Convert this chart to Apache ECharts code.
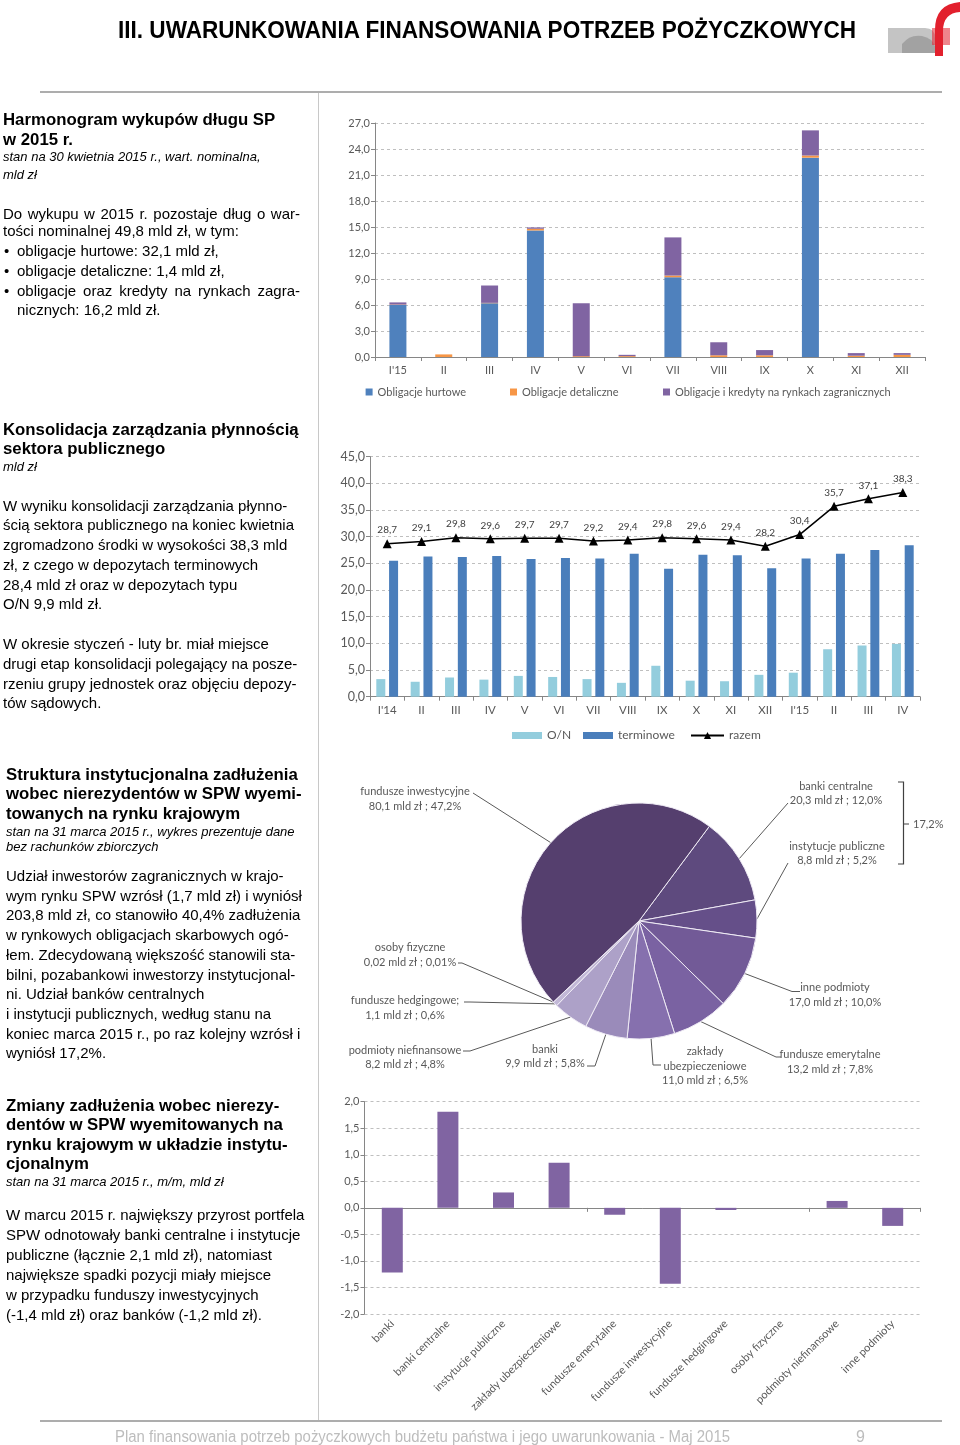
<!DOCTYPE html>
<html><head><meta charset="utf-8">
<script src="https://cdn.jsdelivr.net/npm/echarts@6/dist/echarts.min.js"></script>
<style>
html,body{margin:0;padding:0;background:#fff;}
body{width:960px;height:1445px;position:relative;overflow:hidden;font-family:"Liberation Sans",Arial,sans-serif;color:#000;}
#chart{position:absolute;left:0;top:0;width:960px;height:1445px;}
.t{position:absolute;white-space:nowrap;line-height:20px;height:20px;}
.h{font-weight:bold;font-size:16.8px;}
.s{font-style:italic;font-size:13px;}
.b{font-size:15px;}
.j{text-align:justify;text-align-last:justify;}
.ln{position:absolute;background:#B4B4B4;}
</style></head><body>
<div id="chart"></div>
<div id="page"></div>
<script>
// ---------------- DATA ----------------
const months15 = ["I'15","II","III","IV","V","VI","VII","VIII","IX","X","XI","XII"];
const hurtowe = [6.0,0,6.2,14.6,0,0,9.2,0,0,23.0,0,0];
const detaliczne = [0.05,0.3,0.05,0.2,0.1,0.1,0.2,0.2,0.2,0.25,0.15,0.25];
const zagraniczne = [0.25,0,2.0,0.15,6.1,0.15,4.4,1.5,0.6,2.9,0.3,0.2];

const months = ["I'14","II","III","IV","V","VI","VII","VIII","IX","X","XI","XII","I'15","II","III","IV"];
const onValues = [3.3,2.8,3.6,3.2,3.9,3.7,3.3,2.6,5.8,3.0,2.9,4.1,4.5,8.9,9.6,9.9];
const termValues = [25.5,26.3,26.2,26.4,25.8,26.0,25.9,26.8,24.0,26.6,26.5,24.1,25.9,26.8,27.5,28.4];
const razemValues = [28.7,29.1,29.8,29.6,29.7,29.7,29.2,29.4,29.8,29.6,29.4,28.2,30.4,35.7,37.1,38.3];

const pieNames = ['banki centralne','instytucje publiczne','inne podmioty','fundusze emerytalne','zakłady ubezpieczeniowe','banki','podmioty niefinansowe','fundusze hedgingowe','osoby fizyczne','fundusze inwestycyjne'];
const pieLabelNames = ['banki centralne','instytucje publiczne','inne podmioty','fundusze emerytalne','zakłady\nubezpieczeniowe','banki','podmioty niefinansowe','fundusze hedgingowe;','osoby fizyczne','fundusze inwestycyjne'];
const pieValues = [20.3,8.8,17.0,13.2,11.0,9.9,8.2,1.1,0.02,80.1];
const piePercents = ['12,0%','5,2%','10,0%','7,8%','6,5%','5,8%','4,8%','0,6%','0,01%','47,2%'];
const bracketLabel = '17,2%';

const instCats = ['banki','banki centralne','instytucje publiczne','zakłady ubezpieczeniowe','fundusze emerytalne','fundusze inwestycyjne','fundusze hedgingowe','osoby fizyczne','podmioty niefinansowe','inne podmioty'];
const instChanges = [-1.22,1.81,0.29,0.85,-0.13,-1.43,-0.04,0.0,0.13,-0.34];

// ---------------- STYLES / LAYOUT ----------------
const pieColors = ['#5E4A7E','#654F89','#725A97','#7A62A2','#8670AE','#9A8BBA','#ADA1C8','#C2B8D7','#D4CDE3','#553F6E'];
const pieLabelPos = [
  {x:836,y:793.5,elbow:[788,803],end:[788,803]},
  {x:837,y:853.5,elbow:[788,863],end:[788,863]},
  {x:835,y:995,elbow:[792,991.5],end:[800,991.5]},
  {x:830,y:1062,elbow:[776,1057],end:[781,1057]},
  {x:705,y:1066,elbow:[653,1065],end:[661,1065]},
  {x:545,y:1056.5,elbow:[595,1066],end:[587,1066]},
  {x:405,y:1057.5,elbow:[470,1051],end:[463,1051]},
  {x:405,y:1008,elbow:[470,1002],end:[464,1002]},
  {x:410,y:955,elbow:[462,963],end:[458,963]},
  {x:415,y:799,elbow:[473,793],end:[473,793]}
];

const FONT = 'Lato';
const AX = '#595959';
const AXL = '#868686';
const GRIDC = '#BFBFBF';
function fmt1(v){ return (+v).toFixed(1).replace('.', ','); }
function fmtV(v){ return (v < 0.1 ? v.toFixed(2) : v.toFixed(1)).replace('.', ','); }

const split = {show:true, lineStyle:{type:[3,3], color:GRIDC, width:1}};
function catAxis(grid, data, extra){
  return Object.assign({type:'category', gridIndex:grid, data:data,
    axisLine:{lineStyle:{color:AXL}}, axisTick:{show:true, length:4, lineStyle:{color:AXL}},
    axisLabel:{color:AX, fontSize:11, fontFamily:FONT, margin:8, interval:0}}, extra||{});
}
function valAxis(grid, min, max, interval, fs){
  return {type:'value', gridIndex:grid, min:min, max:max, interval:interval,
    axisLine:{show:true, lineStyle:{color:AXL}}, axisTick:{show:true, length:4, lineStyle:{color:AXL}},
    axisLabel:{formatter:fmt1, color:AX, fontSize:fs, fontFamily:FONT, margin:5},
    splitLine:split};
}
function legend(name, left, top, w, h, fs, icon){
  const l = {data:[name], left:left, top:top, padding:0, itemWidth:w, itemHeight:h, itemGap:0,
    textStyle:{color:AX, fontSize:fs, fontFamily:FONT}};
  if (icon) l.icon = icon;
  return l;
}

const chart = echarts.init(document.getElementById('chart'));
chart.setOption({
  animation:false,
  textStyle:{fontFamily:FONT},
  grid:[
    {left:375, top:123, width:550, height:234},
    {left:370, top:456.7, width:550, height:240},
    {left:364.5, top:1101.7, width:556, height:212.3}
  ],
  legend:[
    legend('Obligacje hurtowe',365.6,386.5,7,7,11,'rect'),
    legend('Obligacje detaliczne',510,386.5,7,7,11,'rect'),
    legend('Obligacje i kredyty na rynkach zagranicznych',663,386.5,7,7,11,'rect'),
    legend('O/N',512,729.5,30,7,12,'rect'),
    legend('terminowe',583,729.5,30,7,12,'rect'),
    legend('razem',690,729.5,33,9,12)
  ],
  xAxis:[
    catAxis(0, months15),
    catAxis(1, months, {axisLabel:{color:AX, fontSize:11.5, fontFamily:FONT, margin:8, interval:0}}),
    catAxis(2, instCats, {axisLine:{show:false, onZero:false}, axisTick:{show:false},
      axisLabel:{rotate:45, color:AX, fontSize:11, fontFamily:FONT, margin:8, interval:0}}),
    catAxis(2, instCats, {position:'top', axisLine:{onZero:true, lineStyle:{color:AXL}},
      axisTick:{show:true, inside:true, length:4, lineStyle:{color:AXL}}, axisLabel:{show:false}})
  ],
  yAxis:[
    valAxis(0, 0, 27, 3, 11),
    valAxis(1, 0, 45, 5, 12.5),
    valAxis(2, -2, 2, 0.5, 11)
  ],
  series:[
    {type:'bar', name:'Obligacje hurtowe', xAxisIndex:0, yAxisIndex:0, stack:'s1', data:hurtowe, barWidth:17, itemStyle:{color:'#4F81BD'}},
    {type:'bar', name:'Obligacje detaliczne', xAxisIndex:0, yAxisIndex:0, stack:'s1', data:detaliczne, barWidth:17, itemStyle:{color:'#F79646'}},
    {type:'bar', name:'Obligacje i kredyty na rynkach zagranicznych', xAxisIndex:0, yAxisIndex:0, stack:'s1', data:zagraniczne, barWidth:17, itemStyle:{color:'#8064A2'}},
    {type:'bar', name:'O/N', xAxisIndex:1, yAxisIndex:1, data:onValues, barWidth:9, barGap:'42%', itemStyle:{color:'#93CDDD'}},
    {type:'bar', name:'terminowe', xAxisIndex:1, yAxisIndex:1, data:termValues, barWidth:9, barGap:'42%', itemStyle:{color:'#4A7EBB'}},
    {type:'line', name:'razem', xAxisIndex:1, yAxisIndex:1, data:razemValues, symbol:'triangle', symbolSize:9,
      lineStyle:{color:'#000', width:1.5}, itemStyle:{color:'#000'},
      label:{show:true, position:'top', distance:4, formatter:p=>fmt1(p.value), fontSize:10, color:'#404040', fontFamily:FONT}},
    {type:'pie', center:[639,921], radius:118, startAngle:53.4, clockwise:true, avoidLabelOverlap:false,
      itemStyle:{borderColor:'#EEEAF4', borderWidth:1},
      data: pieNames.map((n,i)=>({name:n, value:pieValues[i], itemStyle:{color:pieColors[i]}})),
      label:{show:true, position:'outside', fontSize:11, lineHeight:14.5, color:AX, fontFamily:FONT,
        formatter:p=>pieLabelNames[p.dataIndex]+'\n'+fmtV(p.value)+' mld zł ; '+piePercents[p.dataIndex]},
      labelLine:{show:true, length:10, length2:10, lineStyle:{color:'#595959', width:1}},
      labelLayout:function(p){
        const L = pieLabelPos[p.dataIndex];
        const s = p.labelLinePoints && p.labelLinePoints[0];
        const r = {x:L.x, y:L.y, align:'center', verticalAlign:'middle'};
        if (s) r.labelLinePoints = [s, L.elbow, L.end];
        return r;
      }},
    {type:'bar', name:'zmiana', xAxisIndex:2, yAxisIndex:2, data:instChanges, barWidth:21, itemStyle:{color:'#8064A2'}}
  ],
  graphic:[
    {type:'polyline', shape:{points:[[898,782],[903.5,782],[903.5,864],[898,864]]}, style:{stroke:'#404040', lineWidth:1.2, fill:null}},
    {type:'line', shape:{x1:903.5,y1:824,x2:909,y2:824}, style:{stroke:'#404040', lineWidth:1}},
    {type:'text', x:913, y:824, style:{text:bracketLabel, fontSize:11, fontFamily:FONT, fill:AX, verticalAlign:'middle'}}
  ]
});

// ---------------- PAGE TEXT ----------------
const page = document.getElementById('page');
function add(cls, x, y, txt, w){
  const d = document.createElement('div');
  d.className = 't ' + cls;
  d.style.left = x + 'px';
  d.style.top = (y - 10) + 'px';
  if (w) d.style.width = w + 'px';
  d.textContent = txt;
  page.appendChild(d);
  return d;
}
function fitWidth(el, target){
  const w = el.getBoundingClientRect().width;
  if (w > 0) { el.style.transformOrigin = '0 50%'; el.style.transform = 'scaleX(' + (target / w) + ')'; }
}
function line(x,y,w,h,c){ const d=document.createElement('div'); d.className='ln'; d.style.left=x+'px'; d.style.top=y+'px'; d.style.width=w+'px'; d.style.height=h+'px'; if(c) d.style.background=c; page.appendChild(d); }

line(40,91,902,2,'#ADADAD');
line(318,93,1,1327,'#C8C8C8');
line(40,1420,902,2,'#ADADAD');

// header
const hd = document.createElement('div');
hd.style.cssText='position:absolute;white-space:nowrap;left:118px;top:15px;height:30px;line-height:30px;font-family:"Liberation Sans Narrow","Liberation Sans",sans-serif;font-weight:bold;font-size:24px;color:#000;';
hd.textContent='III. UWARUNKOWANIA FINANSOWANIA POTRZEB POŻYCZKOWYCH';
page.appendChild(hd);
fitWidth(hd, 738);

const ft = document.createElement('div');
ft.style.cssText='position:absolute;white-space:nowrap;left:115px;top:1427px;height:20px;line-height:20px;font-family:"Liberation Sans Narrow","Liberation Sans",sans-serif;font-size:16px;color:#BDBDBD;';
ft.textContent='Plan finansowania potrzeb pożyczkowych budżetu państwa i jego uwarunkowania - Maj 2015';
page.appendChild(ft);
fitWidth(ft, 615);
const pn = document.createElement('div');
pn.style.cssText='position:absolute;white-space:nowrap;left:856px;top:1427px;height:20px;line-height:20px;font-family:"Liberation Sans Narrow","Liberation Sans",sans-serif;font-size:16px;color:#BDBDBD;';
pn.textContent='9';
page.appendChild(pn);

// block 1
add('h',3,120,'Harmonogram wykupów długu SP');
add('h',3,140,'w 2015 r.');
add('s',3,157,'stan na 30 kwietnia 2015 r., wart. nominalna,');
add('s',3,175,'mld zł');
add('b j',3,214,'Do wykupu w 2015 r. pozostaje dług o war-',297);
add('b',3,231,'tości nominalnej 49,8 mld zł, w tym:');
add('b',4,251,'•'); add('b',17,251,'obligacje hurtowe: 32,1 mld zł,');
add('b',4,271,'•'); add('b',17,271,'obligacje detaliczne: 1,4 mld zł,');
add('b',4,291,'•'); add('b j',17,291,'obligacje oraz kredyty na rynkach zagra-',283);
add('b',17,310,'nicznych: 16,2 mld zł.');

// block 2
add('h',3,430,'Konsolidacja zarządzania płynnością');
add('h',3,449,'sektora publicznego');
add('s',3,467,'mld zł');
[['W wyniku konsolidacji zarządzania płynno-',506],['ścią sektora publicznego na koniec kwietnia',525],
 ['zgromadzono środki w wysokości 38,3 mld',545],['zł, z czego w depozytach terminowych',565],
 ['28,4 mld zł oraz w depozytach typu',585],['O/N 9,9 mld zł.',604],
 ['W okresie styczeń - luty br. miał miejsce',644],['drugi etap konsolidacji polegający na posze-',664],
 ['rzeniu grupy jednostek oraz objęciu depozy-',684],['tów sądowych.',703]].forEach(a=>add('b',3,a[1],a[0]));

// block 3
add('h',6,775,'Struktura instytucjonalna zadłużenia');
add('h',6,794,'wobec nierezydentów w SPW wyemi-');
add('h',6,814,'towanych na rynku krajowym');
add('s',6,832,'stan na 31 marca 2015 r., wykres prezentuje dane');
add('s',6,847,'bez rachunków zbiorczych');
[['Udział inwestorów zagranicznych w krajo-',876],['wym rynku SPW wzrósł (1,7 mld zł) i wyniósł',896],
 ['203,8 mld zł, co stanowiło 40,4% zadłużenia',915],['w rynkowych obligacjach skarbowych ogó-',935],
 ['łem. Zdecydowaną większość stanowili sta-',955],['bilni, pozabankowi inwestorzy instytucjonal-',975],
 ['ni. Udział banków centralnych',994],['i instytucji publicznych, według stanu na',1014],
 ['koniec marca 2015 r., po raz kolejny wzrósł i',1034],['wyniósł 17,2%.',1053]].forEach(a=>add('b',6,a[1],a[0]));

// block 4
add('h',6,1106,'Zmiany zadłużenia wobec nierezy-');
add('h',6,1125,'dentów w SPW wyemitowanych na');
add('h',6,1145,'rynku krajowym w układzie instytu-');
add('h',6,1164,'cjonalnym');
add('s',6,1182,'stan na 31 marca 2015 r., m/m, mld zł');
[['W marcu 2015 r. największy przyrost portfela',1215],['SPW odnotowały banki centralne i instytucje',1235],
 ['publiczne (łącznie 2,1 mld zł), natomiast',1255],['największe spadki pozycji miały miejsce',1275],
 ['w przypadku funduszy inwestycyjnych',1295],['(-1,4 mld zł) oraz banków (-1,2 mld zł).',1315]].forEach(a=>add('b',6,a[1],a[0]));

// logo
const svgNS='http://www.w3.org/2000/svg';
const logo=document.createElementNS(svgNS,'svg');
logo.setAttribute('width','80'); logo.setAttribute('height','60');
logo.style.cssText='position:absolute;left:880px;top:0;';
logo.innerHTML='<path d="M8 53 L8 28 L45 28 Q55 28 55 38 L55 53 Z" fill="#C4C4C4"/>'+
 '<path d="M22 53 L22 44 Q30 34 42 36 Q52 38 55 46 L55 53 Z" fill="#A2A2A2"/>'+
 '<path d="M55 56 L55 30 Q55 4 80 2 L80 12 Q63 13 63 31 L63 56 Z" fill="#E2202D"/>'+
 '<rect x="52" y="28" width="18" height="17" fill="#E2202D" opacity="0.55"/>';
page.appendChild(logo);
</script>
</body></html>
